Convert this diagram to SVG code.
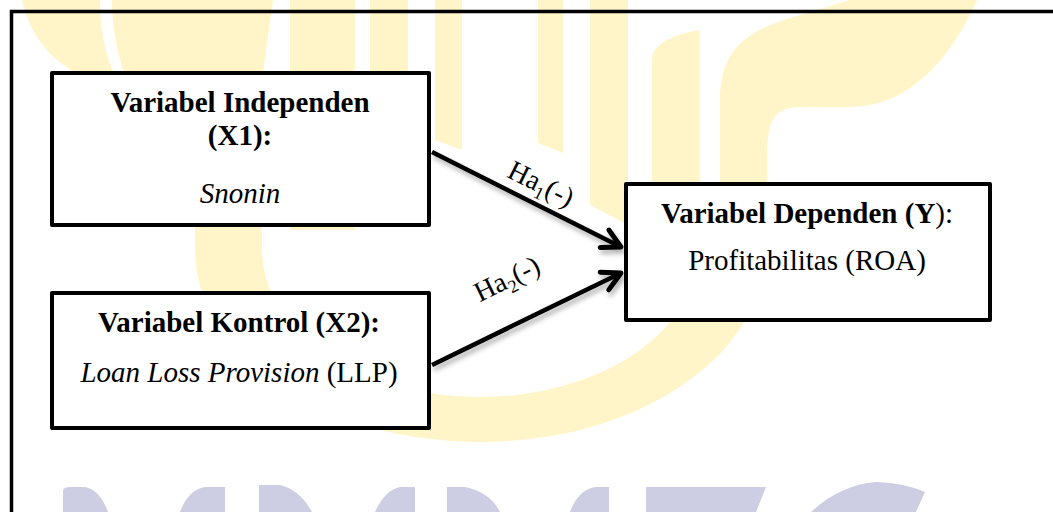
<svg xmlns="http://www.w3.org/2000/svg" width="1053" height="512" viewBox="0 0 1053 512">
<style>
.wm-y{fill:#FFF5C9;stroke:none}
.wm-l{fill:#CDCDE3;stroke:none}
.box{fill:#FFFFFF;stroke:#000;stroke-width:4;stroke-linejoin:round}
.b{font-family:"Liberation Serif","Times New Roman",serif;font-size:29px;font-weight:bold;fill:#000}
.r{font-family:"Liberation Serif","Times New Roman",serif;font-size:29px;fill:#000}
.it{font-style:italic;font-weight:normal}
.lbl{font-family:"Liberation Serif","Times New Roman",serif;font-size:28px;fill:#000}
.conn{stroke:#000;stroke-width:4.5;fill:none;marker-end:url(#arr)}
</style>
<defs>
<marker id="arr" viewBox="0 0 24 24" refX="21" refY="12" markerWidth="26" markerHeight="26" markerUnits="userSpaceOnUse" orient="auto">
<path d="M4,3 L21,12 L4,21" fill="none" stroke="#000" stroke-width="4.5" stroke-linecap="round" stroke-linejoin="round"/>
</marker>
<filter id="sh" x="-10%" y="-10%" width="130%" height="140%">
<feDropShadow dx="2" dy="4" stdDeviation="2.5" flood-color="#000" flood-opacity="0.3"/>
</filter>
</defs>
<rect width="1053" height="512" fill="#FFFFFF"/>
<g id="watermark">
<path class="wm-y" d="M22,0 L100,0 C100,30 105,55 115,75 L80,75 C50,60 30,35 22,0 Z"/>
<path class="wm-y" d="M112,0 L273,0 L262,80 L262,250 L195,250 L195,80 L125,75 C116,50 112,25 112,0 Z"/>
<path class="wm-y" d="M290,0 L355,0 L355,230 L290,230 Z"/>
<path class="wm-y" d="M370,0 L408,0 L408,220 L370,220 Z"/>
<path class="wm-y" d="M435,0 L462,0 L462,150 L435,140 Z"/>
<path class="wm-y" d="M538,0 L563,0 L563,153 L538,143 Z"/>
<path class="wm-y" d="M590,0 L628,0 L628,225 L590,205 Z"/>
<path class="wm-y" d="M652,60 C652,45 670,35 700,30 L700,250 L652,250 Z"/>
<path class="wm-y" d="M195,250 A285,192 0 0 0 765,250 L698,250 A218,147 0 0 1 262,250 Z"/>
<path class="wm-y" d="M720,260 L720,95 C722,50 745,30 800,15 L850,0 L977,0 C955,50 920,95 870,105 C840,110 810,105 790,108 C770,112 767,130 767,160 L767,260 Z"/>
<path class="wm-l" d="M63,512 L63,491 Q63,487 70,487 L85,487 Q100,490 108,512 Z"/>
<path class="wm-l" d="M180,512 Q188,490 205,487 L225,487 L225,512 Z"/>
<path class="wm-l" d="M259,512 L259,485 L280,485 Q300,490 312,512 Z"/>
<path class="wm-l" d="M375,512 Q385,490 400,487 L415,487 L415,512 Z"/>
<path class="wm-l" d="M447,512 L447,487 L465,487 Q490,492 500,512 Z"/>
<path class="wm-l" d="M570,512 Q578,490 595,487 L609,487 L609,512 Z"/>
<path class="wm-l" d="M646,512 L646,487 L766,487 L756,512 Z"/>
<path class="wm-l" d="M811,512 Q840,485 876,482 Q905,483 925,492 L916,512 Z"/>
</g>
<rect id="frame" x="11.5" y="11.5" width="1100" height="600" fill="none" stroke="#000" stroke-width="3.5"/>
<g id="connectors" filter="url(#sh)">
<line class="conn" x1="432" y1="152" x2="621" y2="247"/>
<line class="conn" x1="432" y1="365" x2="621" y2="273"/>
</g>
<g id="label-ha1" transform="translate(541,184) rotate(26.6)">
<text class="lbl" x="0" y="9" text-anchor="middle">Ha<tspan font-size="18" dy="6">1</tspan><tspan dy="-6">(-)</tspan></text>
</g>
<g id="label-ha2" transform="translate(507,279) rotate(-26)">
<text class="lbl" x="0" y="9" text-anchor="middle">Ha<tspan font-size="18" dy="6">2</tspan><tspan dy="-6">(-)</tspan></text>
</g>
<g id="node-x1">
<rect class="box" x="52" y="73" width="377" height="152"/>
<text class="b" x="240" y="112" text-anchor="middle">Variabel Independen</text>
<text class="b" x="240" y="145" text-anchor="middle">(X1):</text>
<text class="r it" x="240" y="203" text-anchor="middle">Snonin</text>
</g>
<g id="node-x2">
<rect class="box" x="52" y="293" width="377" height="135"/>
<text class="b" x="239" y="332" text-anchor="middle">Variabel Kontrol (X2):</text>
<text class="r" x="239" y="382" text-anchor="middle"><tspan class="it">Loan Loss Provision</tspan> (LLP)</text>
</g>
<g id="node-y">
<rect class="box" x="626" y="184" width="364" height="136"/>
<text class="b" x="807" y="223" text-anchor="middle">Variabel Dependen (Y<tspan font-weight="normal">):</tspan></text>
<text class="r" x="807" y="270" text-anchor="middle">Profitabilitas (ROA)</text>
</g>
</svg>
